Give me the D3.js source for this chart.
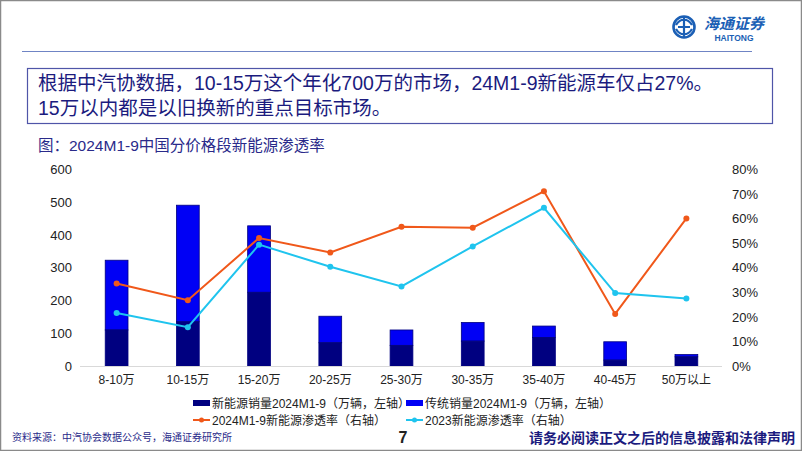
<!DOCTYPE html>
<html><head><meta charset="utf-8">
<script src="https://cdn.jsdelivr.net/npm/d3@7/dist/d3.min.js"></script>
<style>
html,body{margin:0;padding:0;background:#fff;}
svg{display:block;font-family:"Liberation Sans","Noto Sans CJK SC",sans-serif;}
</style></head>
<body>
<svg id="c" width="802" height="451"></svg>
<script>
const categories = ["8-10万","10-15万","15-20万","20-25万","25-30万","30-35万","35-40万","40-45万","50万以上"];
const totalSales = [323, 491, 428, 152, 110, 133, 122, 74, 35];
const nevSales = [110, 135, 225, 71, 63, 76, 87, 18, 28];
const penetration2024 = [0.336, 0.268, 0.521, 0.462, 0.567, 0.563, 0.711, 0.212, 0.601];
const penetration2023 = [0.216, 0.158, 0.494, 0.404, 0.324, 0.487, 0.644, 0.297, 0.275];
const leftTicks = [0, 100, 200, 300, 400, 500, 600];
const rightTicks = [0, 0.1, 0.2, 0.3, 0.4, 0.5, 0.6, 0.7, 0.8];
const legendLabels = ["新能源销量2024M1-9（万辆，左轴）","传统销量2024M1-9（万辆，左轴）","2024M1-9新能源渗透率（右轴）","2023新能源渗透率（右轴）"];

const NAVY = "#000080", BLUE = "#0000f5", ORANGE = "#f0581a", CYAN = "#1fc4ee", TXT = "#1b1b7e";
const svg = d3.select("#c");
const cjk = '"Liberation Sans","Noto Sans CJK SC",sans-serif';

// page frame
svg.append("rect").attr("x",0.5).attr("y",0.5).attr("width",801).attr("height",450)
  .attr("fill","none").attr("stroke","#8a8a8a").attr("stroke-width",1.5);
// header line
svg.append("line").attr("x1",22).attr("x2",752).attr("y1",51.5).attr("y2",51.5)
  .attr("stroke","#6f84c4").attr("stroke-width",1.2);

// logo
const logo = svg.append("g").attr("transform","translate(684,27)");
logo.append("circle").attr("r",10.5).attr("fill","none").attr("stroke","#1b5fb5").attr("stroke-width",2.6);
logo.append("path").attr("d","M-8,-2 C-4,-9 4,-9 8,-2 M-8,2 C-4,9 4,9 8,2 M0,-10 L0,10 M-6,0 L6,0")
  .attr("fill","none").attr("stroke","#1b5fb5").attr("stroke-width",2.2);
svg.append("text").attr("x",704).attr("y",29).attr("font-size",15).attr("font-style","italic")
  .attr("fill","#1b5fb5").attr("font-family",'"Noto Sans CJK SC"').attr("font-weight","bold").text("海通证券");
svg.append("text").attr("x",734).attr("y",41).attr("text-anchor","middle").attr("font-size",8.5)
  .attr("font-weight","bold").attr("fill","#1b5fb5").text("HAITONG");

// text box
svg.append("rect").attr("x",27.5).attr("y",68.5).attr("width",745).attr("height",55)
  .attr("fill","none").attr("stroke","#4f55a8").attr("stroke-width",1.2);
svg.append("text").attr("x",38).attr("y",90).attr("font-size",19.5).attr("fill",TXT)
  .text("根据中汽协数据，10-15万这个年化700万的市场，24M1-9新能源车仅占27%。");
svg.append("text").attr("x",38).attr("y",114.5).attr("font-size",19.5).attr("fill",TXT)
  .text("15万以内都是以旧换新的重点目标市场。");
svg.append("text").attr("x",38).attr("y",151).attr("font-size",15.5).attr("fill","#2a2a8a")
  .text("图：2024M1-9中国分价格段新能源渗透率");

// scales
const x = d3.scaleBand().domain(categories).range([81,722]).paddingInner(0.68).paddingOuter(0.34);
const yL = d3.scaleLinear().domain([0,600]).range([366,169.5]);
const yR = d3.scaleLinear().domain([0,0.8]).range([366,169.5]);

// axes
const axL = svg.append("g").attr("transform","translate(72,0)")
  .call(d3.axisLeft(yL).tickValues(leftTicks).tickSize(0).tickPadding(0));
const axR = svg.append("g").attr("transform","translate(732,0)")
  .call(d3.axisRight(yR).tickValues(rightTicks).tickSize(0).tickPadding(0).tickFormat(d3.format(".0%")));
[axL, axR].forEach(a => {
  a.select(".domain").remove();
  a.selectAll("text").attr("font-size",13).attr("fill","#222").attr("font-family",cjk);
});
const axB = svg.append("g").attr("transform","translate(0,366)")
  .call(d3.axisBottom(x).tickSize(0).tickPadding(9));
axB.select(".domain").attr("stroke","#d9d9d9").attr("d","M80,0.5H722");
axB.selectAll("text").attr("font-size",12).attr("fill","#222").attr("font-family",cjk);

// bars
const bars = svg.append("g");
categories.forEach((c,i) => {
  bars.append("rect").attr("x",x(c)).attr("width",x.bandwidth())
    .attr("y",yL(totalSales[i])).attr("height",yL(nevSales[i]) - yL(totalSales[i]))
    .attr("fill",BLUE).attr("stroke",NAVY).attr("stroke-width",0.8);
  bars.append("rect").attr("x",x(c)).attr("width",x.bandwidth())
    .attr("y",yL(nevSales[i])).attr("height",yL(0) - yL(nevSales[i]))
    .attr("fill",NAVY).attr("stroke",NAVY).attr("stroke-width",0.8);
});
svg.append("line").attr("x1",80).attr("x2",722).attr("y1",366.5).attr("y2",366.5).attr("stroke","#d9d9d9");

// lines
const cx = c => x(c) + x.bandwidth()/2;
function drawLine(vals, color){
  const line = d3.line().x((d,i)=>cx(categories[i])).y(d=>yR(d));
  svg.append("path").datum(vals).attr("d",line).attr("fill","none").attr("stroke",color).attr("stroke-width",2);
  svg.append("g").selectAll("circle").data(vals).join("circle")
    .attr("cx",(d,i)=>cx(categories[i])).attr("cy",d=>yR(d)).attr("r",3).attr("fill",color);
}
drawLine(penetration2024, ORANGE);
drawLine(penetration2023, CYAN);

// legend
const lg = svg.append("g").attr("font-size",12).attr("fill","#222");
const legPos = [[193,403],[406,403],[193,420],[406,420]];
[NAVY, BLUE].forEach((col,i)=>{
  lg.append("rect").attr("x",legPos[i][0]).attr("y",legPos[i][1]-3).attr("width",17).attr("height",6).attr("fill",col);
});
[ORANGE, CYAN].forEach((col,j)=>{
  const p = legPos[j+2];
  lg.append("line").attr("x1",p[0]).attr("x2",p[0]+17).attr("y1",p[1]).attr("y2",p[1]).attr("stroke",col).attr("stroke-width",2);
  lg.append("circle").attr("cx",p[0]+8.5).attr("cy",p[1]).attr("r",2.5).attr("fill",col);
});
legendLabels.forEach((t,i)=>{
  lg.append("text").attr("x",legPos[i][0]+19).attr("y",legPos[i][1]+4.5).attr("fill","#222").text(t);
});

// footer
svg.append("text").attr("x",12).attr("y",441).attr("font-size",10).attr("fill","#2a2a8a").text("资料来源：中汽协会数据公众号，海通证券研究所");
svg.append("text").attr("x",403).attr("y",443).attr("text-anchor","middle").attr("font-size",16).attr("font-weight","bold").attr("fill","#222").text("7");
svg.append("text").attr("x",795).attr("y",443).attr("text-anchor","end").attr("font-size",14).attr("font-weight","bold").attr("fill","#1b1b7e").text("请务必阅读正文之后的信息披露和法律声明");
</script>
</body></html>
